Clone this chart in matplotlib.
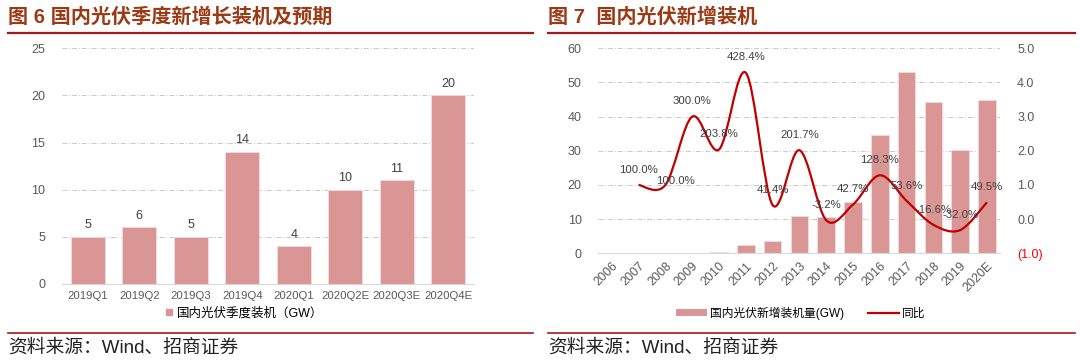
import numpy as np
import matplotlib
matplotlib.use("Agg")
import matplotlib.pyplot as plt
from matplotlib.path import Path
from matplotlib.patches import PathPatch, Patch
from matplotlib.lines import Line2D

plt.rcParams['font.family'] = ['Liberation Sans', 'Noto Sans CJK SC', 'DejaVu Sans']

# ── data ──────────────────────────────────────────────────────────────────────
quarters = ['2019Q1', '2019Q2', '2019Q3', '2019Q4', '2020Q1', '2020Q2E', '2020Q3E', '2020Q4E']
quarter_gw = [5, 6, 5, 14, 4, 10, 11, 20]

years = ['2006', '2007', '2008', '2009', '2010', '2011', '2012', '2013',
         '2014', '2015', '2016', '2017', '2018', '2019', '2020E']
annual_gw = [0.01, 0.02, 0.04, 0.16, 0.5, 2.4, 3.5, 10.8, 10.5, 15.1, 34.5, 53.1, 44.3, 30.1, 45.0]
yoy_years = ['2007', '2008', '2009', '2010', '2011', '2012', '2013',
             '2014', '2015', '2016', '2017', '2018', '2019', '2020E']
yoy = [1.000, 1.000, 3.000, 2.038, 4.284, 0.414, 2.017, -0.032, 0.427, 1.283, 0.536, -0.166, -0.320, 0.495]

BAR = '#D99694'
LINE = '#C00000'
RULE = '#9E1B1B'
TITLE = '#9C3A16'
GRID = '#C8C8C8'
TXT = '#404040'

fig = plt.figure(figsize=(10.8, 3.61), dpi=100)


def header_footer(x0, x1, title):
    fig.text(x0, 1 - 17 / 361, title, fontsize=14.5, fontweight='bold', color=TITLE,
             va='center', ha='left')
    fig.add_artist(Line2D([x0, x1], [1 - 33 / 361] * 2, color=RULE, lw=1.6))
    fig.add_artist(Line2D([x0, x1], [1 - 333 / 361] * 2, color=RULE, lw=1.2))
    fig.text(x0, 1 - 348 / 361, '资料来源：Wind、招商证券', fontsize=13.5, color='#222222',
             va='center', ha='left')


def style_axis(ax):
    for s in ['top', 'right', 'left']:
        ax.spines[s].set_visible(False)
    ax.spines['bottom'].set_color('#D9D9D9')
    ax.tick_params(length=0, labelsize=9, labelcolor='#595959')
    ax.yaxis.grid(True, color=GRID, lw=0.7, dashes=(5, 2, 1, 2))
    ax.set_axisbelow(True)


# ── 1. quarterly chart ───────────────────────────────────────────────────────
header_footer(8 / 1080, 533 / 1080, '图 6 国内光伏季度新增长装机及预期')

ax1 = fig.add_axes([62 / 1080, 77 / 361, 412 / 1080, 235.7 / 361])
x1 = np.arange(len(quarters))
ax1.bar(x1, quarter_gw, width=0.66, color=BAR, edgecolor='#F2DCDB', lw=0.6)
ax1.set_xlim(-0.5, len(quarters) - 0.5)
ax1.set_ylim(0, 25)
ax1.set_yticks(range(0, 26, 5))
ax1.set_xticks(x1)
ax1.set_xticklabels(quarters, color='#222222')
style_axis(ax1)
ax1.tick_params(axis='y', pad=12)
ax1.tick_params(axis='x', pad=5, labelsize=8.2)
for xi, v in zip(x1, quarter_gw):
    ax1.annotate(str(v), (xi, v), xytext=(0, 4), textcoords='offset points',
                 ha='center', va='bottom', fontsize=9, color=TXT)

fig.legend(handles=[Line2D([], [], marker='s', ls='none', color=BAR, markersize=5)],
           labels=['国内光伏季度装机（GW）'], loc='center', bbox_to_anchor=(243 / 1080, 1 - 313 / 361),
           frameon=False, fontsize=9, handletextpad=0.2, handlelength=1)

# ── 2. annual chart ──────────────────────────────────────────────────────────
header_footer(548 / 1080, 1075 / 1080, '图 7  国内光伏新增装机')

ax2 = fig.add_axes([598.4 / 1080, 107.7 / 361, 402 / 1080, 205 / 361])
x2 = np.arange(len(years))
ax2.bar(x2, annual_gw, width=0.65, color=BAR, edgecolor='#F2DCDB', lw=0.6)
ax2.set_xlim(-0.5, len(years) - 0.5)
ax2.set_ylim(0, 60)
ax2.set_yticks(range(0, 61, 10))
ax2.set_xticks(x2)
ax2.set_xticklabels(years, rotation=45, ha='right', rotation_mode='anchor', color='#222222')
style_axis(ax2)
ax2.tick_params(axis='y', pad=12)
ax2.tick_params(axis='x', pad=5)

ax3 = ax2.twinx()
ax3.set_ylim(-1, 5)
ax3.set_yticks(np.arange(-1, 5.1, 1))
ax3.set_yticklabels(['(1.0)', '0.0', '1.0', '2.0', '3.0', '4.0', '5.0'])
for s in ax3.spines.values():
    s.set_visible(False)
ax3.tick_params(length=0, labelsize=9, labelcolor='#595959', pad=12)
ax3.get_yticklabels()[0].set_color('#FF0000')

# smoothed line (Excel style) drawn as cubic Bezier segments through the points
px = np.array([years.index(y) for y in yoy_years], dtype=float)
py = np.array(yoy)
pts = np.column_stack([px, py])
verts = [pts[0]]
codes = [Path.MOVETO]
for k in range(len(pts) - 1):
    p0 = pts[max(k - 1, 0)]
    p1 = pts[k]
    p2 = pts[k + 1]
    p3 = pts[min(k + 2, len(pts) - 1)]
    verts += [p1 + (p2 - p0) / 6, p2 - (p3 - p1) / 6, p2]
    codes += [Path.CURVE4] * 3
ax3.add_patch(PathPatch(Path(verts, codes), facecolor='none', edgecolor=LINE, lw=1.6))

for xi, v in zip(px, py):
    off = (7, 3) if xi == 2 else (0, 11)
    ax3.annotate(f'{v * 100:.1f}%', (xi, v), xytext=off, textcoords='offset points',
                 ha='center', va='center', fontsize=8.2, color=TXT)

fig.legend(handles=[Patch(facecolor=BAR, edgecolor='none'), Line2D([], [], color=LINE, lw=1.6)],
           labels=['国内光伏新增装机量(GW)', '同比'], loc='center',
           bbox_to_anchor=(801 / 1080, 1 - 313 / 361), ncol=2, frameon=False, fontsize=8.5,
           handlelength=2.6, handleheight=0.5, handletextpad=0.3, columnspacing=2.0)

fig.savefig('out.png', dpi=100)
